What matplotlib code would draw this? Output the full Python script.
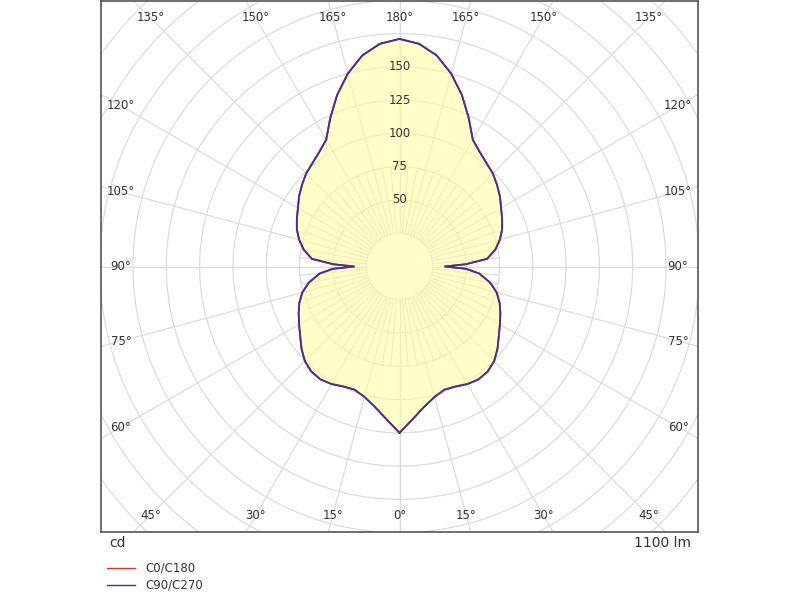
import matplotlib.pyplot as plt
import numpy as np

# luminous intensity (cd) per gamma angle, same curve for C0/C180 and C90/C270
gamma = [0, 5, 10, 15, 20, 25, 30, 35, 40, 45, 50, 55, 60, 65, 70, 75, 80, 85, 88, 90,
         92, 95, 100, 105, 110, 115, 120, 125, 130, 135, 140, 145, 150, 155, 160, 165,
         170, 175, 180]
cd_c0 = [125, 115, 107, 101.5, 98.5, 99.5, 102, 103.5, 103, 100.5, 96, 91, 87, 83.5, 80, 75.5, 69, 60, 50, 34,
         50, 66, 73, 78, 82, 85, 88, 92, 95.5, 99, 101.5, 105, 110, 123, 137, 150,
         161, 168, 171]
cd_c90 = list(cd_c0)

ring_labels = [50, 75, 100, 125, 150]
angle_labels = [0, 15, 30, 45, 60, 75, 90, 105, 120, 135, 150, 165, 180]
flux_text = '1100 lm'

grid_col = '#dcdcdc'
txt_col = '#333333'


def to_xy(g, r, side=1):
    g = np.radians(np.asarray(g, dtype=float))
    r = np.asarray(r, dtype=float)
    return side * r * np.sin(g), -r * np.cos(g)


fig = plt.figure(figsize=(8, 6), dpi=100)
ax = fig.add_axes([101 / 800, 68 / 600, 597 / 800, 531 / 600])
ax.set_xlim(-224, 224)
ax.set_ylim(-199.5, 199.5)
ax.set_xticks([])
ax.set_yticks([])
for s in ax.spines.values():
    s.set_color('#555555')
    s.set_linewidth(1.2)

# rings
t = np.linspace(0, 2 * np.pi, 400)
for r in range(25, 325, 25):
    ax.plot(r * np.cos(t), r * np.sin(t), color=grid_col, lw=0.9, zorder=1)

# radial lines: 15 deg full length, 5 deg near the centre
for g in range(0, 181, 5):
    r_end = 400 if g % 15 == 0 else 75
    for side in (1, -1):
        x, y = to_xy([g, g], [25, r_end], side)
        ax.plot(x, y, color=grid_col, lw=0.9, zorder=1)

# curves
for vals, col in ((cd_c0, '#e03030'), (cd_c90, '#40309a')):
    xr, yr = to_xy(gamma, vals, 1)
    xl, yl = to_xy(gamma[::-1], vals[::-1], -1)
    xs = np.concatenate([xr, xl])
    ys = np.concatenate([yr, yl])
    if col != '#e03030':
        ax.fill(xs, ys, color='#ffff99', alpha=0.55, lw=0, zorder=2)
    ax.plot(xs, ys, color=col, lw=1.3, zorder=4, solid_joinstyle='round')

# ring values along the 180 deg line
for v in ring_labels:
    ax.text(0, v, str(v), ha='center', va='center', fontsize=8.5, color=txt_col, zorder=5)

# angle labels, placed where each ray meets an inset box
W, H = 209, 187
for g in angle_labels:
    sides = (1,) if g in (0, 180) else (1, -1)
    for side in sides:
        sx, sy = to_xy(g, 1, side)
        k = min(W / abs(sx) if abs(sx) > 1e-9 else 1e9, H / abs(sy) if abs(sy) > 1e-9 else 1e9)
        ax.text(sx * k, sy * k, f'{g}°', ha='center', va='center', fontsize=8.5,
                color=txt_col, zorder=5)

fig.text(109 / 800, 1 - 543 / 600, 'cd', ha='left', va='center', fontsize=10, color=txt_col)
fig.text(691 / 800, 1 - 543 / 600, flux_text, ha='right', va='center', fontsize=10, color=txt_col)

# legend
for yy, col, lab in ((568, '#e03030', 'C0/C180'), (585, '#40309a', 'C90/C270')):
    fig.add_artist(plt.Line2D([107 / 800, 135 / 800], [1 - yy / 600] * 2, color=col, lw=1))
    fig.text(145 / 800, 1 - yy / 600, lab, ha='left', va='center', fontsize=8.5, color=txt_col)

fig.savefig('out.png', dpi=100)
